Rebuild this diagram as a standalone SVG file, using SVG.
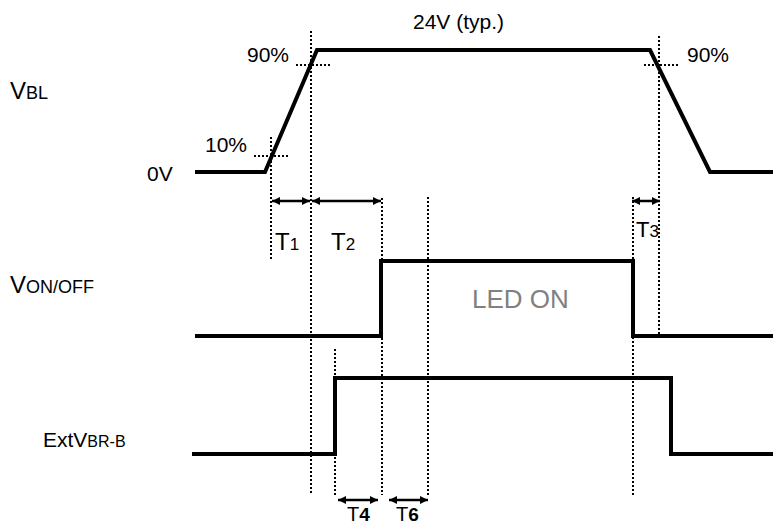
<svg xmlns="http://www.w3.org/2000/svg" width="777" height="526" viewBox="0 0 777 526">
<style>
.wave{fill:none;stroke:#000;stroke-width:4;stroke-linejoin:miter}
.dot{fill:none;stroke:#000;stroke-width:2;stroke-dasharray:2 2}
.arr{fill:none;stroke:#000;stroke-width:2.5;marker-start:url(#ah);marker-end:url(#ah)}
text{font-family:"Liberation Sans",Arial,sans-serif;fill:#000}
.t21{font-size:21px}
.big{font-size:24px}
.sub{font-size:18px}
.led{font-size:26px;fill:#808080}
</style>
<defs>
<marker id="ah" markerUnits="userSpaceOnUse" viewBox="0 0 10 10" refX="10" refY="5" markerWidth="9" markerHeight="8" orient="auto-start-reverse">
<path d="M0,0 L10,5 L0,10 z" fill="#000"/>
</marker>
</defs>
<rect width="777" height="526" fill="#fff"/>
<g id="vbl">
<polyline class="wave" points="195,172 265,172 317,50 650,50 710,172 773,172"/>
<text x="10" y="99"><tspan class="big">V</tspan><tspan class="sub">BL</tspan></text>
<text class="t21" x="147" y="181">0V</text>
<text class="t21" x="413" y="29">24V (typ.)</text>
<text class="t21" x="247" y="62">90%</text>
<text class="t21" x="687" y="62">90%</text>
<text class="t21" x="205" y="152">10%</text>
</g>
<g id="von">
<polyline class="wave" points="195,336 381,336 381,261 633,261 633,336 773,336"/>
<text x="10" y="293"><tspan class="big">V</tspan><tspan class="sub">ON/OFF</tspan></text>
<text class="led" x="472" y="308">LED ON</text>
</g>
<g id="ext">
<polyline class="wave" points="192,454 335,454 335,378 671,378 671,454 773,454"/>
<text x="43" y="447"><tspan style="font-size:21px">ExtV</tspan><tspan style="font-size:16px">BR-B</tspan></text>
</g>
<g id="guides">
<line class="dot" x1="271" y1="137" x2="271" y2="260"/>
<line class="dot" x1="311" y1="31" x2="311" y2="495"/>
<line class="dot" x1="659" y1="36" x2="659" y2="335"/>
<line class="dot" x1="382" y1="198" x2="382" y2="495"/>
<line class="dot" x1="428" y1="197" x2="428" y2="495"/>
<line class="dot" x1="335" y1="349" x2="335" y2="495"/>
<line class="dot" x1="633" y1="197" x2="633" y2="495"/>
<line class="dot" x1="296" y1="65" x2="330" y2="65"/>
<line class="dot" x1="254" y1="156" x2="288" y2="156"/>
<line class="dot" x1="644" y1="65" x2="678" y2="65"/>
</g>
<g id="connectors">
<line class="arr" x1="272" y1="201" x2="310" y2="201"/>
<line class="arr" x1="312" y1="201" x2="381" y2="201"/>
<line class="arr" x1="632" y1="201" x2="660" y2="201"/>
<line class="arr" x1="338" y1="500" x2="378" y2="500"/>
<line class="arr" x1="389" y1="500" x2="428" y2="500"/>
</g>
<g id="labels">
<text x="275" y="250"><tspan style="font-size:24px">T</tspan><tspan style="font-size:17px">1</tspan></text>
<text x="331" y="250"><tspan style="font-size:24px">T</tspan><tspan style="font-size:17px">2</tspan></text>
<text x="636" y="237"><tspan style="font-size:22px">T</tspan><tspan style="font-size:17px">3</tspan></text>
<text x="347" y="521"><tspan style="font-size:20px">T</tspan><tspan style="font-size:19px;font-weight:bold">4</tspan></text>
<text x="396" y="521"><tspan style="font-size:20px">T</tspan><tspan style="font-size:19px;font-weight:bold">6</tspan></text>
</g>
</svg>
